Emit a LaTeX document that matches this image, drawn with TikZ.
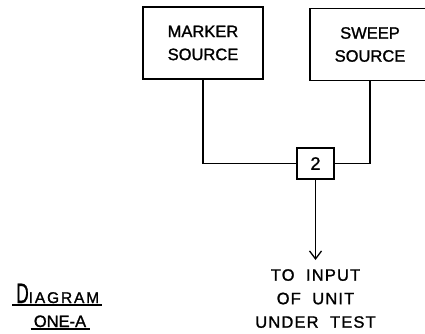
\documentclass[tikz,border=0pt]{standalone}
\usepackage{fontspec}
\setmainfont[FakeBold=1.3,AutoFakeBold=1.3]{Liberation Sans}
\newfontfamily\plainfont[FakeBold=1.3]{Liberation Sans}
\newfontfamily\widefont[LetterSpace=7,WordSpace=2,FakeBold=1.3]{Liberation Sans}
\newfontfamily\capfont[LetterSpace=12,FakeBold=1.3]{Liberation Sans}
\usetikzlibrary{arrows.meta,calc}
\tikzset{
  wire/.style={line width=1.3pt},
  srcbox/.style={draw, line width=1.3pt, minimum width=120pt, minimum height=72pt,
    inner sep=0pt, align=center, font=\plainfont\fontsize{16.5}{23}\selectfont},
  mixbox/.style={draw, line width=1.3pt, minimum width=37pt, minimum height=31pt,
    inner sep=0pt, font=\plainfont\fontsize{18}{20}\selectfont},
  destlabel/.style={align=center, inner xsep=0pt, inner ysep=9pt,
    font=\widefont\fontsize{16.5}{23.5}\selectfont},
}
\begin{document}
\begin{tikzpicture}[x=1pt, y=-1pt]
\useasboundingbox (0,0) rectangle (425,334);
\clip (0,0) rectangle (425,334);

% signal sources
\node[srcbox] (marker) at (203,43) {MARKER\\SOURCE};
\node[srcbox] (sweep) at (370,44.5) {SWEEP\\SOURCE};

% combining network
\node[mixbox] (two) at (315.5,163.5) {2};

% destination
\node[destlabel, anchor=north] (dest) at (315.5,260) {TO INPUT\\OF UNIT\\UNDER TEST};

\draw[wire] (marker.south) |- (two.west);
\draw[wire] (sweep.south) |- (two.east);
\draw[wire, -{Straight Barb[length=8pt, width=12pt, line width=1.3pt]}] (two.south) -- (dest.north);

% title
\node[inner sep=0pt, anchor=base west] (diag) at (16,303)
  {\plainfont\fontsize{28}{28}\selectfont\scalebox{0.62}[1]{D}\capfont\fontsize{15.5}{16}\selectfont IAGRAM};
\node[inner sep=0pt, anchor=base] (one) at (60,327)
  {\plainfont\fontsize{16.5}{18}\selectfont ONE-A};
\draw[line width=1.1pt] ($(diag.base west)+(-4,2)$) -- ($(diag.base east)+(3,2)$);
\draw[line width=1.1pt] ($(one.base west)+(-3,2)$) -- ($(one.base east)+(4,2)$);
\end{tikzpicture}
\end{document}
